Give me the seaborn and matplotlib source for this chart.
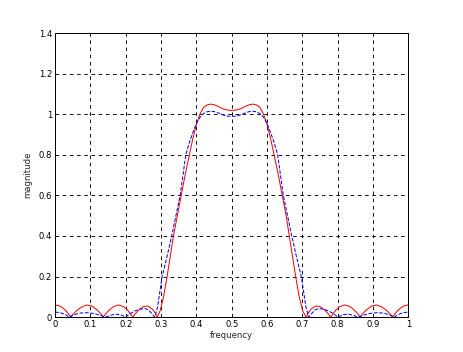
import numpy as np
import pandas as pd
import seaborn as sns
import matplotlib
matplotlib.use("Agg")
import matplotlib.pyplot as plt
from matplotlib.ticker import FormatStrFormatter, MultipleLocator

# red (solid) response
red_freq = [0, 0.01, 0.02, 0.03, 0.038, 0.045, 0.053, 0.06, 0.075, 0.09, 0.105, 0.12, 0.13,
            0.136, 0.143, 0.15, 0.165, 0.18, 0.195, 0.205, 0.214, 0.22, 0.227, 0.235, 0.25,
            0.262, 0.275, 0.283, 0.289, 0.297, 0.307, 0.317, 0.326, 0.335, 0.346, 0.357,
            0.368, 0.38, 0.39, 0.40, 0.41, 0.42, 0.43, 0.44, 0.45, 0.46, 0.47, 0.48, 0.49,
            0.50, 0.51, 0.52, 0.53, 0.54, 0.55, 0.56, 0.57, 0.58, 0.59, 0.60, 0.61, 0.62,
            0.632, 0.643, 0.654, 0.663, 0.672, 0.681, 0.691, 0.701, 0.711, 0.717, 0.725,
            0.738, 0.75, 0.765, 0.773, 0.78, 0.786, 0.795, 0.805, 0.82, 0.835, 0.85, 0.857,
            0.864, 0.87, 0.88, 0.895, 0.91, 0.925, 0.94, 0.947, 0.955, 0.962, 0.97, 0.98,
            0.99, 1.0]
red_mag = [0.060, 0.057, 0.048, 0.033, 0.016, 0.0, 0.018, 0.031, 0.050, 0.060, 0.054, 0.034,
           0.015, 0.0, 0.016, 0.030, 0.052, 0.060, 0.051, 0.035, 0.014, 0.0, 0.017, 0.032,
           0.052, 0.055, 0.040, 0.022, 0.0, 0.03, 0.10, 0.20, 0.30, 0.40, 0.50, 0.60, 0.70,
           0.80, 0.88, 0.95, 1.00, 1.033, 1.046, 1.050, 1.047, 1.040, 1.031, 1.024, 1.020,
           1.019, 1.020, 1.024, 1.031, 1.040, 1.047, 1.050, 1.046, 1.033, 1.00, 0.95, 0.88,
           0.80, 0.70, 0.60, 0.50, 0.40, 0.30, 0.20, 0.10, 0.03, 0.0, 0.022, 0.040, 0.055,
           0.052, 0.032, 0.017, 0.0, 0.014, 0.035, 0.051, 0.060, 0.052, 0.030, 0.016, 0.0,
           0.015, 0.034, 0.054, 0.060, 0.050, 0.031, 0.018, 0.0, 0.016, 0.033, 0.048, 0.057,
           0.060]

# blue (dashed) response
blue_freq = [0, 0.015, 0.03, 0.04, 0.05, 0.07, 0.09, 0.11, 0.13, 0.142, 0.155, 0.17, 0.185,
             0.2, 0.21, 0.225, 0.24, 0.255, 0.265, 0.275, 0.282, 0.29, 0.303, 0.317, 0.33,
             0.342, 0.354, 0.362, 0.37, 0.38, 0.39, 0.40, 0.41, 0.42, 0.43, 0.44, 0.45, 0.46,
             0.47, 0.48, 0.49, 0.50, 0.51, 0.52, 0.53, 0.54, 0.55, 0.56, 0.57, 0.58, 0.59,
             0.60, 0.61, 0.62, 0.63, 0.638, 0.646, 0.658, 0.67, 0.683, 0.697, 0.71, 0.718,
             0.725, 0.735, 0.745, 0.76, 0.775, 0.79, 0.8, 0.815, 0.83, 0.845, 0.858, 0.87,
             0.89, 0.91, 0.93, 0.95, 0.96, 0.97, 0.985, 1.0]
blue_mag = [0.025, 0.022, 0.012, 0.0, 0.010, 0.020, 0.022, 0.018, 0.008, 0.0, 0.008, 0.015,
            0.012, 0.0, 0.015, 0.030, 0.040, 0.042, 0.035, 0.015, 0.0, 0.05, 0.20, 0.30, 0.40,
            0.50, 0.60, 0.70, 0.80, 0.86, 0.91, 0.955, 0.985, 1.003, 1.012, 1.015, 1.013,
            1.008, 1.0, 0.994, 0.99, 0.99, 0.99, 0.994, 1.0, 1.008, 1.013, 1.015, 1.012,
            1.003, 0.985, 0.955, 0.91, 0.86, 0.80, 0.70, 0.60, 0.50, 0.40, 0.30, 0.20, 0.05,
            0.0, 0.015, 0.035, 0.042, 0.040, 0.030, 0.015, 0.0, 0.012, 0.015, 0.008, 0.0,
            0.008, 0.018, 0.022, 0.020, 0.010, 0.0, 0.012, 0.022, 0.025]

sns.set_style("white")
plt.rcParams['font.family'] = ['DejaVu Sans']

fig = plt.figure(figsize=(463 / 72, 352 / 72), dpi=72)
ax = fig.add_axes([0.119, 0.099, 0.763, 0.807])

red = pd.DataFrame({'frequency': red_freq, 'magnitude': red_mag})
blue = pd.DataFrame({'frequency': blue_freq, 'magnitude': blue_mag})
sns.lineplot(data=red, x='frequency', y='magnitude', color='red', linewidth=1.0,
             estimator=None, sort=False, ax=ax)
sns.lineplot(data=blue, x='frequency', y='magnitude', color='blue', linewidth=1.0,
             linestyle='--', dashes=(4, 3), estimator=None, sort=False, ax=ax)

ax.set_xlim(0, 1)
ax.set_ylim(0, 1.4)
ax.xaxis.set_major_locator(MultipleLocator(0.1))
ax.yaxis.set_major_locator(MultipleLocator(0.2))
ax.xaxis.set_major_formatter(FormatStrFormatter('%g'))
ax.yaxis.set_major_formatter(FormatStrFormatter('%g'))
ax.grid(True, color='black', linestyle='--', linewidth=0.9, dashes=(4, 4))
ax.tick_params(direction='in', length=4, labelsize=8.5, colors='black', pad=3)
for s in ax.spines.values():
    s.set_color('black')
    s.set_linewidth(1.0)
ax.set_xlabel('frequency', fontsize=8.5, labelpad=2)
ax.set_ylabel('magnitude', fontsize=8.5, labelpad=6)

fig.savefig('out.png', dpi=72)
